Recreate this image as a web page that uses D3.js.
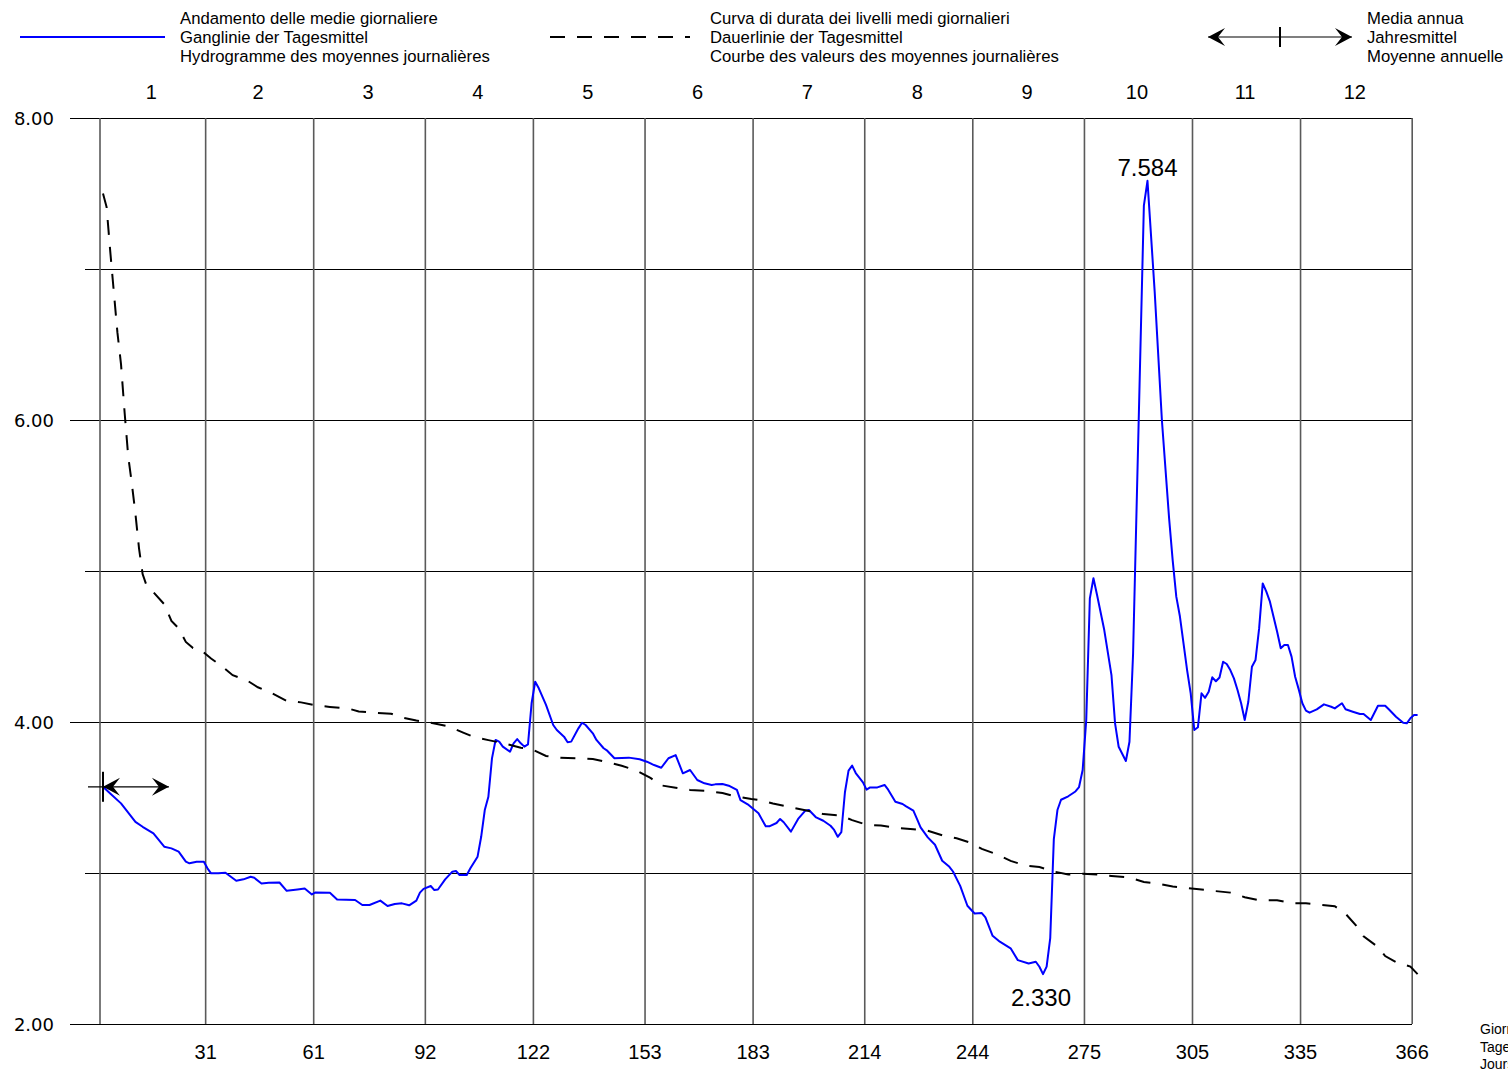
<!DOCTYPE html>
<html>
<head>
<meta charset="utf-8">
<script src="https://cdn.jsdelivr.net/npm/d3@7"></script>
<style>
  body { margin: 0; background: #fff; }
  svg text { font-family: "Liberation Sans", Arial, sans-serif; fill: #000; }
</style>
</head>
<body>
<svg id="chart" width="1508" height="1076"></svg>
<script>
// ---- data -------------------------------------------------------------
const monthLabels = ["1", "2", "3", "4", "5", "6", "7", "8", "9", "10", "11", "12"];
const dayTicks = [31, 61, 92, 122, 153, 183, 214, 244, 275, 305, 335, 366];
const levelGrid = [2, 3, 4, 5, 6, 7, 8];
const levelLabels = [2, 4, 6, 8];

// daily mean water level (hydrograph), day of year -> level
const hydroDays = [1,3,6,10,12,15,18,20,22,24,25,27,29,30,31,33,35,38,40,42,43,45,47,50,52,55,57,59,60,64,66,71,73,75,78,80,82,84,86,88,89,90,92,93,94,96,98,99,100,102,103,105,106,107,108,109,110,111,112,114,115,116,117,118,119,120,121,122,124,126,127,129,130,131,133,134,135,137,138,140,141,143,145,147,150,152,154,156,158,160,162,164,166,168,170,171,173,175,177,178,180,183,185,186,188,189,190,192,194,196,197,199,201,203,204,205,206,207,208,209,210,212,213,214,216,218,219,221,223,224,226,227,228,230,232,234,236,237,239,241,243,245,246,248,250,253,255,258,260,261,262,263,264,265,266,267,269,271,272,273,274,275,276,277,279,281,282,283,285,286,287,290,291,293,295,297,298,299,300,302,303,304,305,306,307,308,309,310,311,312,313,314,315,316,317,318,319,320,321,322,323,324,325,326,327,328,329,330,331,332,333,334,335,336,338,340,342,343,345,346,348,350,351,353,355,357,358,360,362,363,364,365,366];
const hydroLevels = [3.571,3.527,3.461,3.339,3.306,3.262,3.174,3.163,3.141,3.075,3.064,3.075,3.075,3.031,2.998,2.998,3.002,2.949,2.958,2.975,2.968,2.931,2.935,2.937,2.882,2.891,2.897,2.858,2.871,2.869,2.825,2.821,2.788,2.788,2.817,2.781,2.795,2.799,2.786,2.817,2.870,2.895,2.914,2.887,2.891,2.958,3.009,3.013,2.987,2.987,3.031,3.108,3.240,3.417,3.505,3.759,3.881,3.870,3.837,3.803,3.859,3.887,3.859,3.837,3.852,4.124,4.267,4.223,4.113,3.980,3.947,3.903,3.866,3.870,3.958,3.995,3.980,3.925,3.881,3.826,3.810,3.760,3.762,3.764,3.753,3.737,3.715,3.697,3.760,3.781,3.660,3.682,3.616,3.594,3.583,3.587,3.589,3.576,3.550,3.483,3.455,3.395,3.309,3.309,3.331,3.358,3.336,3.274,3.358,3.413,3.417,3.368,3.346,3.313,3.285,3.240,3.270,3.535,3.678,3.711,3.662,3.600,3.552,3.567,3.567,3.583,3.552,3.472,3.457,3.441,3.413,3.358,3.302,3.236,3.187,3.081,3.041,3.010,2.915,2.783,2.732,2.735,2.706,2.584,2.545,2.501,2.423,2.401,2.412,2.379,2.330,2.380,2.568,3.225,3.417,3.485,3.508,3.540,3.569,3.682,4.013,4.819,4.952,4.841,4.609,4.311,3.991,3.836,3.742,3.869,4.450,7.420,7.584,6.850,6.000,5.350,5.070,4.830,4.700,4.344,4.190,3.947,3.965,4.190,4.160,4.200,4.296,4.270,4.295,4.399,4.384,4.344,4.289,4.212,4.124,4.013,4.134,4.366,4.411,4.620,4.918,4.863,4.797,4.697,4.598,4.488,4.510,4.510,4.433,4.300,4.216,4.124,4.075,4.062,4.084,4.117,4.101,4.090,4.124,4.084,4.068,4.053,4.053,4.013,4.108,4.108,4.084,4.035,3.995,3.991,4.025,4.046,4.046];

// duration curve of the daily means (days exceeded -> level)
const durationDays = [1,2,3,4,5,6,7,8,9,10,11,12,13,15,18,20,22,24,26,28,31,34,37,41,44,48,52,56,60,64,69,72,77,81,84,88,92,97,101,104,108,112,117,120,124,128,133,137,141,145,149,153,156,160,164,168,173,176,181,184,187,192,197,201,206,209,213,217,221,226,230,234,238,242,245,249,253,257,261,265,269,273,277,281,286,290,294,298,302,306,310,314,318,322,327,331,335,339,343,346,349,351,355,357,360,364,366];
const durationLevels = [7.50,7.41,7.12,6.85,6.58,6.37,6.05,5.76,5.58,5.38,5.15,4.98,4.91,4.86,4.78,4.67,4.62,4.53,4.49,4.48,4.42,4.37,4.31,4.275,4.23,4.19,4.14,4.13,4.11,4.10,4.09,4.07,4.06,4.055,4.03,4.01,3.995,3.97,3.93,3.90,3.88,3.86,3.83,3.82,3.775,3.763,3.76,3.755,3.735,3.71,3.68,3.63,3.58,3.565,3.55,3.545,3.53,3.51,3.49,3.48,3.46,3.435,3.41,3.39,3.38,3.35,3.32,3.314,3.30,3.29,3.28,3.25,3.23,3.20,3.16,3.125,3.08,3.05,3.04,3.01,2.99,2.995,2.99,2.98,2.97,2.94,2.93,2.91,2.90,2.89,2.88,2.87,2.84,2.82,2.82,2.80,2.80,2.79,2.78,2.73,2.65,2.58,2.51,2.45,2.41,2.38,2.33];

const annualMean = 3.571;

const legendBlue = ["Andamento delle medie giornaliere", "Ganglinie der Tagesmittel", "Hydrogramme des moyennes journalières"];
const legendDash = ["Curva di durata dei livelli medi giornalieri", "Dauerlinie der Tagesmittel", "Courbe des valeurs des moyennes journalières"];
const legendMean = ["Media annua", "Jahresmittel", "Moyenne annuelle"];
const axisTitle = ["Giorni", "Tage", "Jours"];

// ---- scales -----------------------------------------------------------
const plotLeft = 100, plotTop = 118, plotBottom = 1024;
const x = d3.scaleLinear().domain([0, 366]).range([99.4, 1417.6]);
const gridShift = 1.5;                     // day boundaries sit half a day before the label day
const gx = d => x(d - gridShift);
const plotRight = gx(366);
const y = d3.scaleLinear().domain([2, 8]).range([plotBottom, plotTop]);

const svg = d3.select("#chart");

// ---- grid -------------------------------------------------------------
const grid = svg.append("g");
grid.selectAll("line.h").data(levelGrid).join("line")
  .attr("x1", d => levelLabels.includes(d) ? 70 : 85)
  .attr("x2", plotRight)
  .attr("y1", d => y(d) + 0.5).attr("y2", d => y(d) + 0.5)
  .attr("stroke", "#000").attr("stroke-width", 1)
  .attr("shape-rendering", "crispEdges");

grid.selectAll("line.v").data([0].concat(dayTicks)).join("line")
  .attr("x1", (d, i) => i === 0 ? plotLeft : gx(d))
  .attr("x2", (d, i) => i === 0 ? plotLeft : gx(d))
  .attr("y1", plotTop).attr("y2", plotBottom)
  .attr("stroke", "#5a5a5a").attr("stroke-width", 1.6);

// y labels
svg.append("g").selectAll("text").data(levelLabels).join("text")
  .attr("x", 54).attr("y", d => y(d) + 6.5)
  .attr("text-anchor", "end")
  .style("font-family", "'DejaVu Sans', Verdana, sans-serif")
  .style("font-size", "18px")
  .text(d3.format(".2f"));

// x labels
svg.append("g").selectAll("text").data(dayTicks).join("text")
  .attr("x", d => gx(d)).attr("y", 1059)
  .attr("text-anchor", "middle")
  .style("font-size", "20px")
  .text(d => d);

// month labels centred in each column
const bounds = [plotLeft].concat(dayTicks.map(gx));
svg.append("g").selectAll("text").data(monthLabels).join("text")
  .attr("x", (d, i) => (bounds[i] + bounds[i + 1]) / 2 - 1.5).attr("y", 99)
  .attr("text-anchor", "middle")
  .style("font-size", "20px")
  .text(d => d);

// ---- series -----------------------------------------------------------
const hydro = hydroDays.map((d, i) => [d, hydroLevels[i]]);
const duration = durationDays.map((d, i) => [d, durationLevels[i]]);
const line = d3.line().x(d => x(d[0])).y(d => y(d[1]));

svg.append("path").datum(hydro)
  .attr("d", line).attr("fill", "none")
  .attr("stroke", "#0000ff").attr("stroke-width", 2)
  .attr("stroke-linejoin", "round");

svg.append("path").datum(duration)
  .attr("d", line).attr("fill", "none")
  .attr("stroke", "#000").attr("stroke-width", 2)
  .attr("stroke-dasharray", "15,12");

// extremes
const maxI = d3.maxIndex(hydroLevels), minI = d3.minIndex(hydroLevels);
svg.append("text")
  .attr("x", x(hydroDays[maxI])).attr("y", y(hydroLevels[maxI]) - 5)
  .attr("text-anchor", "middle").style("font-size", "24px")
  .text(d3.format(".3f")(hydroLevels[maxI]));
svg.append("text")
  .attr("x", x(hydroDays[minI]) - 2).attr("y", y(hydroLevels[minI]) + 32)
  .attr("text-anchor", "middle").style("font-size", "24px")
  .text(d3.format(".3f")(hydroLevels[minI]));

// ---- annual mean marker ----------------------------------------------
const arrowHead = "M0,0 L-17,-9 L-10,0 L-17,9 Z";
function meanSymbol(g, xStart, xTick, xEnd, yy, tickHalf, lineStart) {
  g.append("line").attr("x1", lineStart).attr("x2", xEnd).attr("y1", yy).attr("y2", yy)
    .attr("stroke", "#000").attr("stroke-width", 1.2);
  g.append("line").attr("x1", xTick).attr("x2", xTick).attr("y1", yy - tickHalf).attr("y2", yy + tickHalf)
    .attr("stroke", "#000").attr("stroke-width", 2);
  g.append("path").attr("d", arrowHead).attr("transform", `translate(${xStart},${yy}) rotate(180)`).attr("fill", "#000");
  g.append("path").attr("d", arrowHead).attr("transform", `translate(${xEnd},${yy})`).attr("fill", "#000");
}
meanSymbol(svg.append("g"), x(1), x(1), x(19.3), y(annualMean), 15, 88);

// ---- legend -----------------------------------------------------------
const legend = svg.append("g").style("font-size", "16.7px");
function legendText(xx, rows) {
  legend.append("g").selectAll("text").data(rows).join("text")
    .attr("x", xx).attr("y", (d, i) => 24 + i * 19).text(d => d);
}
legend.append("line").attr("x1", 20).attr("x2", 165).attr("y1", 37).attr("y2", 37)
  .attr("stroke", "#0000ff").attr("stroke-width", 2);
legendText(180, legendBlue);
legend.append("line").attr("x1", 550).attr("x2", 690).attr("y1", 37).attr("y2", 37)
  .attr("stroke", "#000").attr("stroke-width", 2).attr("stroke-dasharray", "15,12");
legendText(710, legendDash);
meanSymbol(legend.append("g"), 1208, 1280, 1352, 37, 10, 1208);
legendText(1367, legendMean);

// axis title, bottom right
svg.append("g").selectAll("text").data(axisTitle).join("text")
  .attr("x", 1480).attr("y", (d, i) => 1034 + i * 17.5)
  .style("font-size", "14px").text(d => d);
</script>
</body>
</html>
